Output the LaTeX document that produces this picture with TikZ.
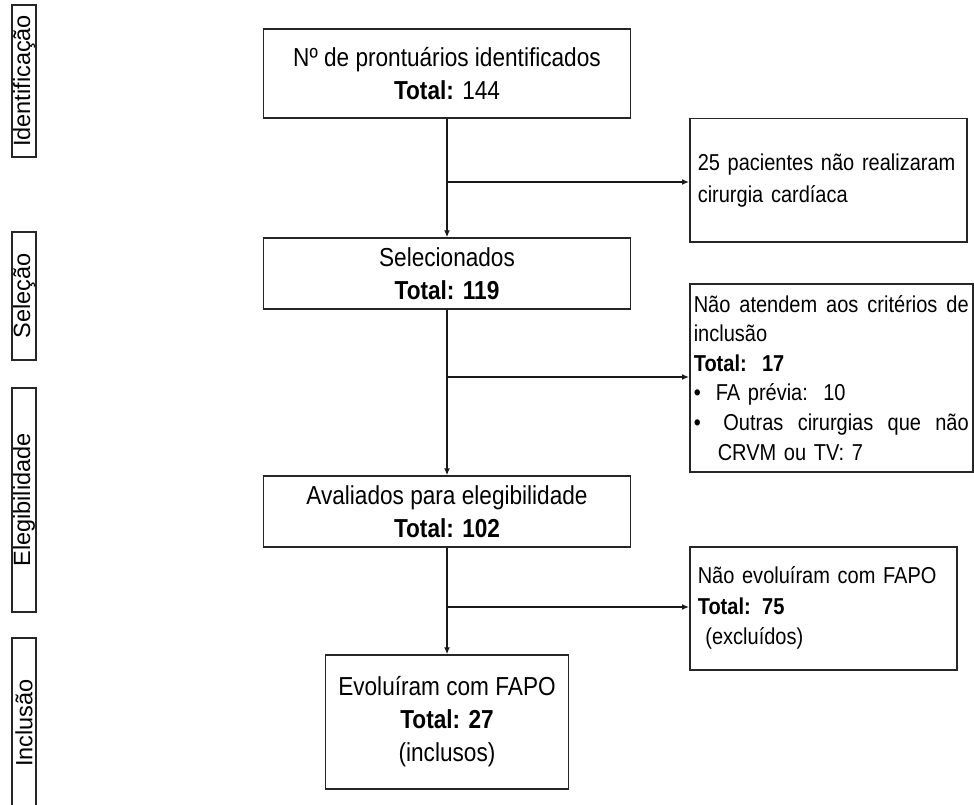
\documentclass[tikz,border=0pt]{standalone}
\usepackage{fontspec}
\setmainfont{Liberation Sans}[FakeStretch=0.87]
\newfontfamily\lblfont{Liberation Sans}
\usetikzlibrary{arrows.meta}
\begin{document}
\begin{tikzpicture}[x=1pt,y=-1pt,
  box/.style={draw=black!85, line width=1.5pt, inner sep=0pt, align=center,
    font=\fontsize{26}{33}\selectfont},
  rbox/.style={draw=black!85, line width=1.5pt, inner xsep=8pt, inner ysep=0pt,
    align=left, anchor=north west, font=\fontsize{23}{32}\selectfont},
  lbl/.style={draw=black!85, line width=1.5pt, rotate=90, inner sep=0pt,
    minimum height=24pt, font=\lblfont\fontsize{23.5}{28}\selectfont},
  arr/.style={line width=1.3pt, draw=black!90, -{Latex[length=7pt,width=6pt]}},
  ln/.style={line width=1.3pt, draw=black!90}]
\useasboundingbox (0,0) rectangle (974,805);
\clip (0,0) rectangle (974,805);

% stage labels
\node[lbl, minimum width=152pt] (L1) at (24,81) {Identificação};
\node[lbl, minimum width=128pt] (L2) at (24,296) {Seleção};
\node[lbl, minimum width=224pt] (L3) at (24,500) {Elegibilidade};
\node[lbl, minimum width=170pt] (L4) at (24,723) {Inclusão};

% main column
\node[box, minimum width=367pt, minimum height=89pt] (b1) at (447,73.5)
  {Nº de prontuários identificados\\\textbf{Total:} 144};
\node[box, minimum width=367pt, minimum height=71pt] (b2) at (447,273.5)
  {Selecionados\\\textbf{Total: 119}};
\node[box, minimum width=367pt, minimum height=71pt] (b3) at (447,511.5)
  {Avaliados para elegibilidade\\\textbf{Total: 102}};
\node[box, minimum width=243pt, minimum height=134pt] (b4) at (447,722)
  {Evoluíram com FAPO\\\textbf{Total: 27}\\(inclusos)};

% side boxes
\node[rbox, text width=261pt, minimum height=123pt] (r1) at (689,118)
  {25 pacientes não realizaram\\cirurgia cardíaca};
\node[rbox, inner xsep=4pt, text width=275pt, minimum height=188pt,
      font=\fontsize{23}{29.6}\selectfont] (r2) at (689,283)
  {Não\hfill atendem\hfill aos\hfill critérios\hfill de\\
   inclusão\\
   \textbf{Total:\ \ 17}\\
   •\hspace{15pt}FA prévia:\ \ 10\\
   •\hspace{15pt}\ Outras\hfill cirurgias\hfill que\hfill não\\
   \hspace{24pt}CRVM ou TV: 7};
\node[rbox, text width=251pt, minimum height=123pt,
      font=\fontsize{23}{30.5}\selectfont] (r3) at (689,546)
  {Não evoluíram com FAPO\\\textbf{Total: 75}\\\ (excluídos)};

% connectors
\draw[arr] (b1) -- (b2);
\draw[arr] (b2) -- (b3);
\draw[arr] (b3) -- (b4);
\coordinate (j1) at (447,182);
\coordinate (j2) at (447,377);
\coordinate (j3) at (447,607);
\draw[arr] (j1) -- (j1 -| r1.west);
\draw[arr] (j2) -- (j2 -| r2.west);
\draw[arr] (j3) -- (j3 -| r3.west);
\end{tikzpicture}
\end{document}
